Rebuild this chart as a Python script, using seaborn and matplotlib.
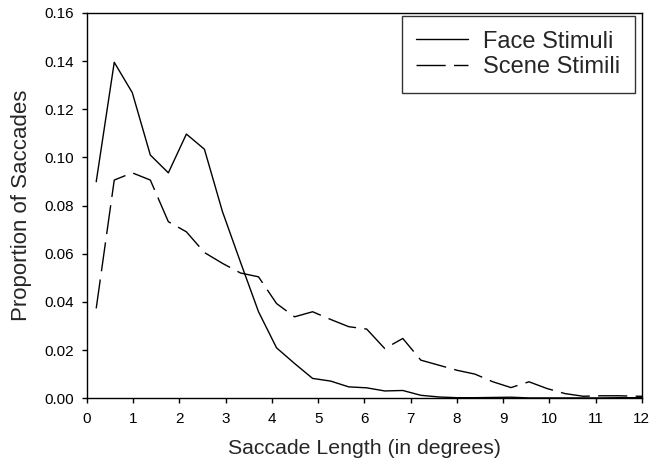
import numpy as np
import pandas as pd
import seaborn as sns
import matplotlib.pyplot as plt

# bin centres (degrees)
saccade_len = [0.20, 0.59, 0.98, 1.37, 1.76, 2.15, 2.54, 2.93, 3.32, 3.71,
               4.10, 4.49, 4.88, 5.27, 5.66, 6.05, 6.44, 6.83, 7.22, 7.61,
               8.00, 8.39, 8.78, 9.17, 9.56, 9.95, 10.34, 10.73, 11.12, 11.51,
               11.90, 12.29]

face = [0.0899, 0.1395, 0.1269, 0.1010, 0.0936, 0.1097, 0.1034, 0.0775, 0.0565, 0.0359,
        0.0209, 0.0144, 0.0082, 0.0071, 0.0047, 0.0043, 0.0030, 0.0032, 0.0012, 0.0005,
        0.0002, 0.0002, 0.0003, 0.0004, 0.0001, 0.0001, 0.0001, 0.0001, 0.0001, 0.0002,
        0.0002, 0.0002]

scene = [0.0373, 0.0906, 0.0936, 0.0906, 0.0733, 0.0691, 0.0605, 0.0560, 0.0520, 0.0504,
         0.0393, 0.0338, 0.0359, 0.0327, 0.0297, 0.0287, 0.0206, 0.0248, 0.0158, 0.0137,
         0.0116, 0.0100, 0.0068, 0.0044, 0.0068, 0.0040, 0.0019, 0.0008, 0.0010, 0.0010,
         0.0008, 0.0008]

series_names = ["Face Stimuli", "Scene Stimili"]

df = pd.DataFrame({
    "x": saccade_len * 2,
    "y": face + scene,
    "kind": [series_names[0]] * len(face) + [series_names[1]] * len(scene),
})

sns.set_style("ticks")
plt.rcParams['font.family'] = ['Liberation Sans', 'DejaVu Sans']

fig = plt.figure(figsize=(6.49, 4.63), dpi=100)
ax = fig.add_axes([0.134, 0.140, 0.855, 0.832])

sns.lineplot(data=df, x="x", y="y", style="kind", ax=ax,
             color="black", linewidth=1.0,
             dashes={series_names[0]: "", series_names[1]: (21, 6)})

ax.set_xlim(0, 12)
ax.set_ylim(0, 0.16)
ax.set_xticks(range(0, 13))
ax.set_yticks(np.arange(0, 0.161, 0.02))
ax.yaxis.set_major_formatter(plt.FuncFormatter(lambda v, p: f"{v:.2f}"))
ax.tick_params(labelsize=11, direction="out", length=3.6, width=1,
               colors="black", pad=6)
for s in ax.spines.values():
    s.set_visible(True)
    s.set_color("black")
    s.set_linewidth(1)

ax.set_xlabel("Saccade Length (in degrees)", fontsize=15.3, labelpad=10)
ax.set_ylabel("Proportion of Saccades", fontsize=16, labelpad=9)

leg = ax.legend(loc="upper right", fontsize=17, frameon=True, fancybox=False,
                edgecolor="black", handlelength=2.2, handletextpad=0.62,
                borderpad=0.62, labelspacing=0.15, borderaxespad=0,
                bbox_to_anchor=(0.987, 0.992))
leg.get_frame().set_linewidth(1)
leg.set_title(None)

fig.savefig("out.png", dpi=100)
